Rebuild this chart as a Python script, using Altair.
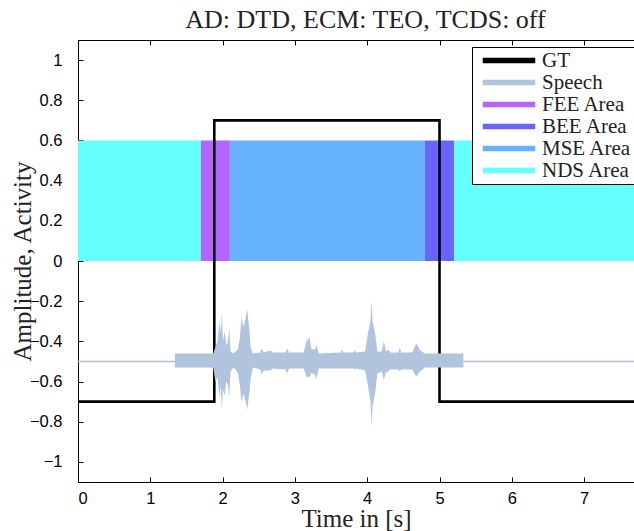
import altair as alt
import pandas as pd

# ---------------- data ----------------
series_names = ["GT", "Speech", "FEE Area", "BEE Area", "MSE Area", "NDS Area"]
series_colors = ["#000000", "#B0C4DE", "#B266FF", "#6666FF", "#66B2FF", "#66FFFF"]

area_names = ["NDS Area", "FEE Area", "MSE Area", "BEE Area", "NDS Area"]
area_start = [0.0, 1.7, 2.1, 4.8, 5.2]
area_end = [1.7, 2.1, 4.8, 5.2, 7.9]
area_low = [0.0, 0.0, 0.0, 0.0, 0.0]
area_high = [0.6, 0.6, 0.6, 0.6, 0.6]

gt_time = [0.0, 1.885, 1.885, 5.0, 5.0, 7.9]
gt_value = [-0.7, -0.7, 0.7, 0.7, -0.7, -0.7]

speech_base_time = [0.0, 7.9]
speech_base_value = [-0.5, -0.5]

env_time = [1.34, 1.87, 1.90, 1.93, 1.955, 1.975, 1.99, 2.005, 2.03, 2.05,
            2.075, 2.09, 2.11, 2.15, 2.21, 2.24, 2.26, 2.29, 2.32, 2.34,
            2.37, 2.39, 2.42, 2.52, 2.54, 2.57, 2.66, 2.70, 2.87, 2.89,
            2.92, 3.12, 3.16, 3.20, 3.23, 3.28, 3.30, 3.33, 3.63, 3.65,
            3.67, 3.81, 3.83, 3.85, 3.97, 4.01, 4.045, 4.06, 4.075, 4.11,
            4.14, 4.20, 4.23, 4.26, 4.29, 4.32, 4.43, 4.45, 4.47, 4.62,
            4.68, 4.73, 4.80, 5.33]
env_upper = [-0.46, -0.46, -0.43, -0.40, -0.30, -0.36, -0.257, -0.40, -0.35, -0.42,
             -0.40, -0.33, -0.45, -0.46, -0.44, -0.38, -0.28, -0.33, -0.28, -0.24,
             -0.34, -0.43, -0.46, -0.455, -0.436, -0.455, -0.445, -0.455, -0.455, -0.435,
             -0.455, -0.455, -0.40, -0.378, -0.44, -0.44, -0.42, -0.46, -0.455, -0.44,
             -0.455, -0.455, -0.445, -0.455, -0.45, -0.36, -0.30, -0.197, -0.30, -0.36,
             -0.45, -0.45, -0.40, -0.45, -0.44, -0.455, -0.455, -0.43, -0.455, -0.455,
             -0.41, -0.445, -0.46, -0.46]
env_lower = [-0.53, -0.53, -0.60, -0.58, -0.68, -0.62, -0.74, -0.64, -0.67, -0.60,
             -0.62, -0.68, -0.55, -0.53, -0.555, -0.62, -0.70, -0.66, -0.70, -0.74,
             -0.66, -0.58, -0.53, -0.54, -0.565, -0.545, -0.545, -0.535, -0.54, -0.56,
             -0.535, -0.535, -0.575, -0.58, -0.555, -0.57, -0.585, -0.535, -0.535, -0.535,
             -0.535, -0.535, -0.54, -0.535, -0.545, -0.62, -0.70, -0.823, -0.72, -0.66,
             -0.56, -0.55, -0.59, -0.555, -0.55, -0.54, -0.54, -0.55, -0.54, -0.54,
             -0.576, -0.55, -0.53, -0.53]

x_ticks = [0, 1, 2, 3, 4, 5, 6, 7, 8]
y_ticks = [-1, -0.8, -0.6, -0.4, -0.2, 0, 0.2, 0.4, 0.6, 0.8, 1]

title_text = "AD: DTD, ECM: TEO, TCDS: off"
x_title = "Time in [s]"
y_title = "Amplitude, Activity"

# ---------------- tables ----------------
df_area = pd.DataFrame({"series": area_names, "start": area_start, "end": area_end,
                        "lo": area_low, "hi": area_high})
df_gt = pd.DataFrame({"t": gt_time, "v": gt_value, "i": list(range(len(gt_time)))})
df_base = pd.DataFrame({"t": speech_base_time, "v": speech_base_value})
df_env = pd.DataFrame({"t": env_time, "up": env_upper, "lo": env_lower,
                       "series": ["Speech"] * len(env_time)})

# ---------------- scales / axes ----------------
SERIF = "Liberation Serif"
SANS = "Liberation Sans"

xscale = alt.Scale(domain=[0, 7.69], nice=False, zero=False)
yscale = alt.Scale(domain=[-1.1, 1.1], nice=False, zero=False)

tick_in = {"expr": "-5"}

x_axis_bottom = alt.Axis(values=x_ticks, format="d", title=x_title, grid=False,
                         tickSize=tick_in, labelPadding=13, labelFont=SANS,
                         labelFontSize=16.5, labelColor="black", domainColor="black",
                         tickColor="black", titleFont=SERIF, titleFontSize=25,
                         titleFontWeight="normal", titleColor="#222222",
                         titleY=44, titleBaseline="alphabetic")
x_axis_top = alt.Axis(values=x_ticks, orient="top", labels=False, title=None,
                      grid=False, tickSize=tick_in, domainColor="black",
                      tickColor="black")
y_axis = alt.Axis(values=y_ticks, format="~g", title=y_title, grid=False,
                  tickSize=tick_in, labelPadding=21, labelFont=SANS,
                  labelFontSize=16.5, labelColor="black", domainColor="black",
                  tickColor="black", titleFont=SERIF, titleFontSize=25,
                  titleFontWeight="normal", titleColor="#222222",
                  titleX=-56, titleY=221, titleBaseline="middle", titleAngle=270)

legend = alt.Legend(
    title=None, orient="none", legendX=394, legendY=7,
    symbolType="M-10.5,-1.1H10.5V1.1H-10.5Z", symbolSize=25, symbolOffset=23.5,
    symbolStrokeWidth=0,
    labelOffset=22.5, labelFont=SERIF, labelFontSize=21, labelColor="#222222",
    labelLimit=0, fillColor="white", strokeColor="black", padding=3,
    rowPadding=0, symbolOpacity=1,
)

cscale = alt.Scale(domain=series_names, range=series_colors)
fill_enc = alt.Fill("series:N", scale=cscale, legend=legend)

rects = alt.Chart(df_area).mark_rect(clip=True).encode(
    x=alt.X("start:Q", scale=xscale, axis=None),
    x2="end:Q",
    y=alt.Y("lo:Q", scale=yscale, axis=y_axis),
    y2="hi:Q",
    fill=fill_enc,
)

gt = alt.Chart(df_gt).mark_line(clip=True, strokeJoin="miter", color="#000000",
                                strokeWidth=2.6).encode(
    x=alt.X("t:Q", scale=xscale, axis=x_axis_bottom),
    y=alt.Y("v:Q", scale=yscale, axis=y_axis),
    order="i:Q",
)

base = alt.Chart(df_base).mark_line(clip=True, color="#B0C4DE", strokeWidth=1.5).encode(
    x=alt.X("t:Q", scale=xscale, axis=x_axis_top),
    y=alt.Y("v:Q", scale=yscale, axis=y_axis),
)

env = alt.Chart(df_env).mark_area(clip=True, opacity=1).encode(
    x=alt.X("t:Q", scale=xscale, axis=None),
    y=alt.Y("up:Q", scale=yscale, axis=y_axis),
    y2="lo:Q",
    fill=fill_enc,
)

chart = alt.layer(rects, gt, base, env).resolve_axis(x="independent").properties(
    width=556, height=442,
    padding={"left": 78, "top": 40, "right": 0, "bottom": 49},
    autosize=alt.AutoSizeParams(type="none"),
    title=alt.Title(title_text, font=SERIF, fontSize=26, fontWeight="normal",
                    color="#222222", anchor="middle", frame="group", dx=9.5,
                    dy=26, baseline="alphabetic", offset=12),
).configure_view(stroke=None).configure(background="white")

chart.save("out.html", embed_options={"renderer": "svg", "actions": False})
